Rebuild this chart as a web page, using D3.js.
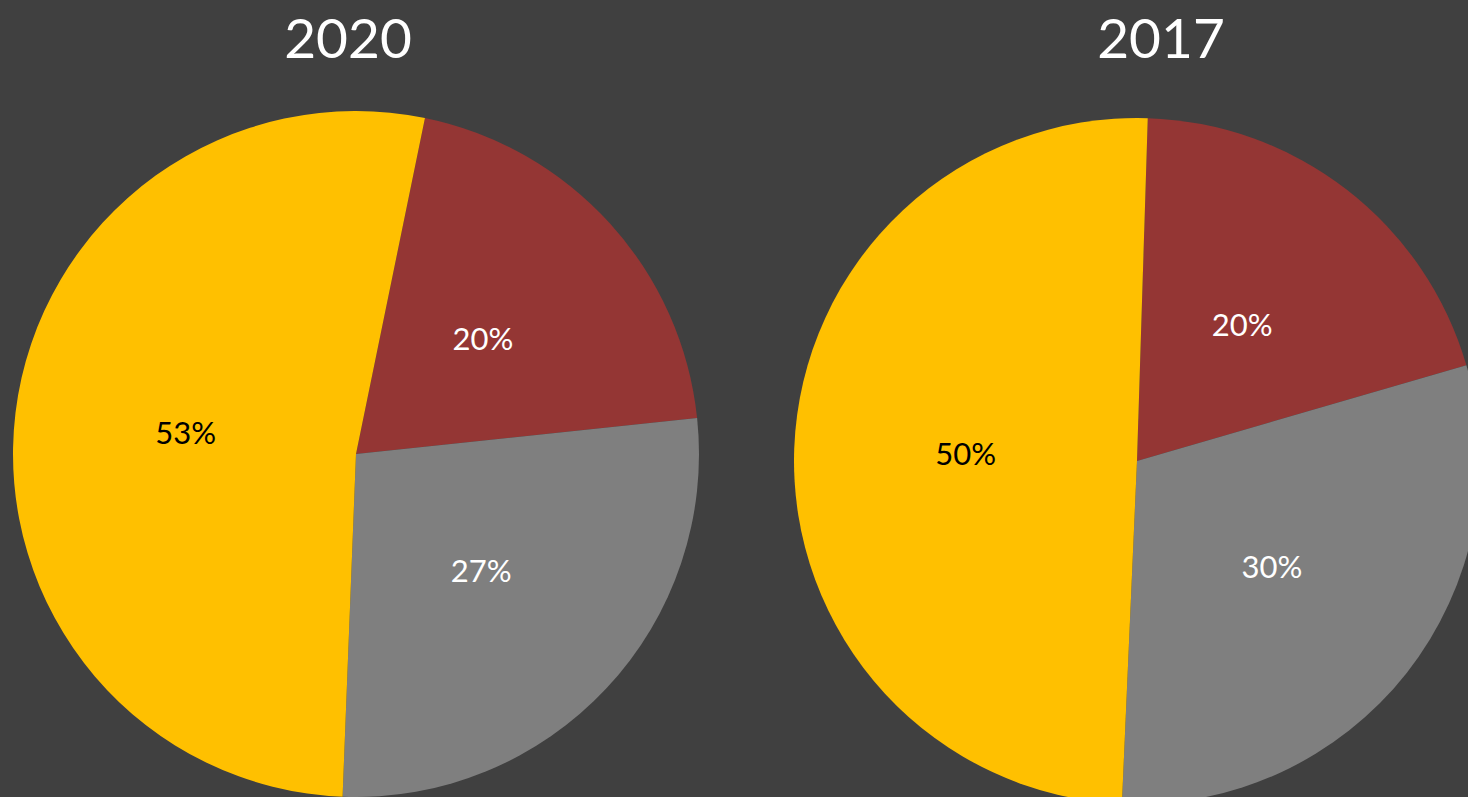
<!DOCTYPE html>
<html><head><meta charset="utf-8">
<script src="https://cdn.jsdelivr.net/npm/d3@7"></script>
<style>html,body{margin:0;padding:0;background:#404040;overflow:hidden}</style>
</head><body>
<svg id="c" width="1468" height="797"></svg>
<script>
const categories = ["Red", "Gray", "Yellow"];
const colors = ["#943634", "#7F7F7F", "#FFC000"];
const labelColors = ["#FFFFFF", "#FFFFFF", "#000000"];
const titles = ["2020", "2017"];
const values2020 = [20.1, 27.3, 52.6];
const values2017 = [20, 30.2, 49.8];
const startAngles = [11.6, 1.8];

const svg = d3.select("#c");
const W = 1468, H = 797;
svg.append("rect").attr("width", W).attr("height", H).attr("fill", "#404040");
const font = "Lato, 'Open Sans', sans-serif";

const pies = [
  {title: titles[0], values: values2020, cx: 356, cy: 454, start: startAngles[0], tx: 348},
  {title: titles[1], values: values2017, cx: 1137, cy: 461, start: startAngles[1], tx: 1161}
];
const r = 343;

pies.forEach(p => {
  const s = p.start * Math.PI / 180;
  const pie = d3.pie().sort(null).startAngle(s).endAngle(s + 2 * Math.PI);
  const arcs = pie(p.values);
  const arc = d3.arc().innerRadius(0).outerRadius(r);
  const lab = d3.arc().innerRadius(r * 0.5).outerRadius(r * 0.5);
  const g = svg.append("g").attr("transform", `translate(${p.cx},${p.cy})`);
  g.selectAll("path").data(arcs).join("path")
    .attr("d", arc).attr("fill", (d, i) => colors[i]);
  g.selectAll("text").data(arcs).join("text")
    .attr("transform", d => `translate(${lab.centroid(d)})`)
    .attr("text-anchor", "middle").attr("dy", "0.35em")
    .attr("font-family", font).attr("font-size", 31)
    .attr("fill", (d, i) => labelColors[i])
    .text(d => Math.round(d.data) + "%");
  svg.append("text").attr("x", p.tx).attr("y", 58)
    .attr("text-anchor", "middle").attr("font-family", font)
    .attr("font-size", 55).attr("fill", "#FFFFFF").text(p.title);
});
</script>
</body></html>
